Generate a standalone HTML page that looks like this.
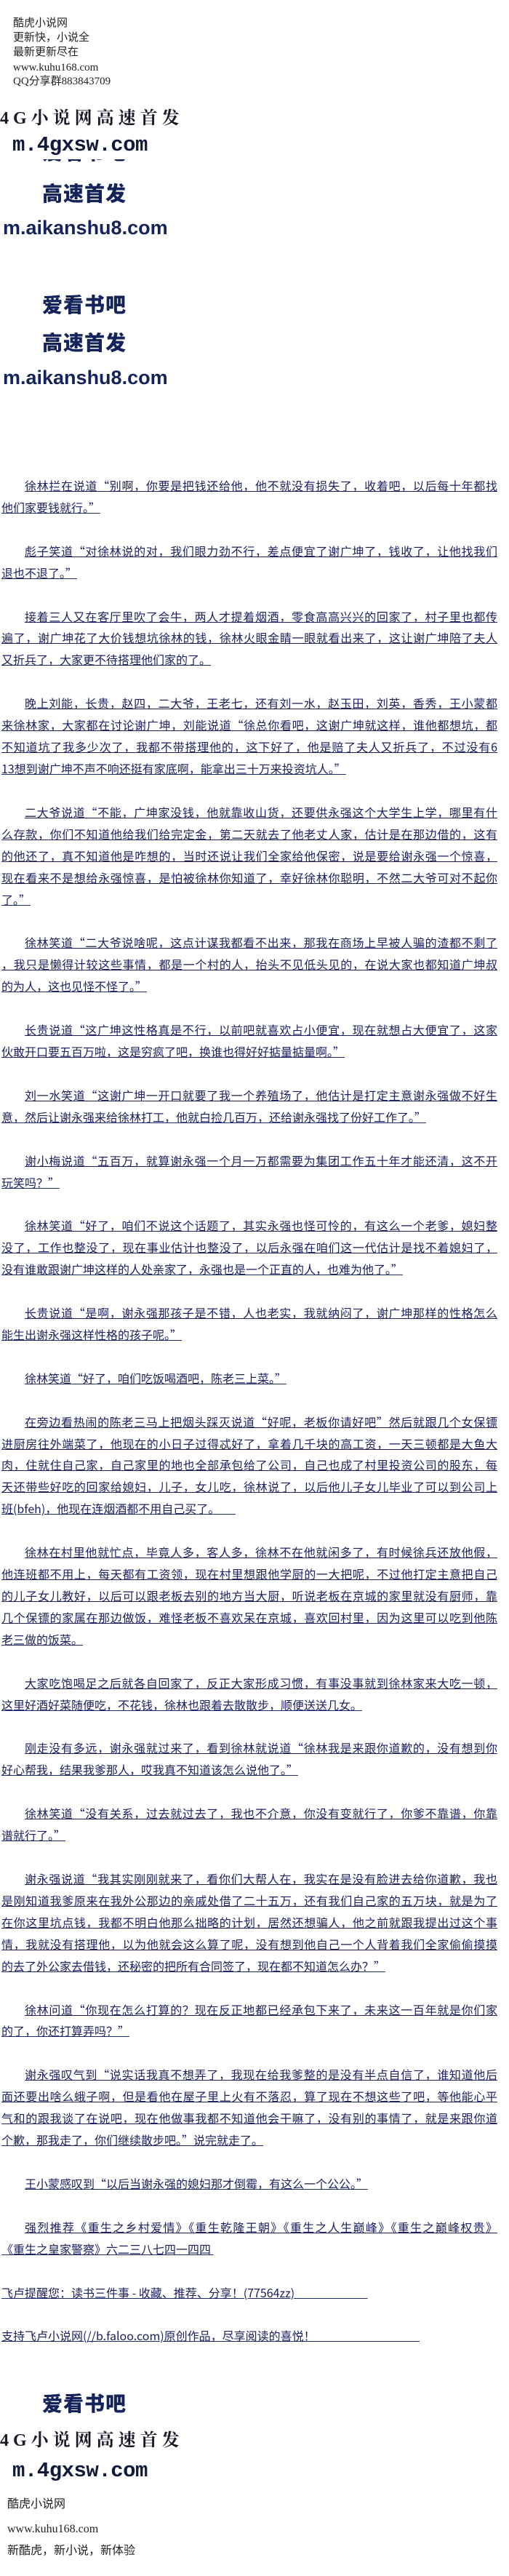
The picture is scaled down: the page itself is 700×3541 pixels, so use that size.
<!DOCTYPE html>
<html><head><meta charset="utf-8">
<style>
html,body{margin:0;padding:0;background:#fff;}
body{width:700px;height:3541px;position:relative;overflow:hidden;font-family:"Liberation Sans","Noto Sans CJK SC",sans-serif;}
.a{position:absolute;white-space:nowrap;}
.hd{left:18px;font-size:15px;color:#222;line-height:20px;font-family:"Liberation Serif","Noto Sans CJK SC",serif;}
.g4{left:0;font-family:"Liberation Serif","Noto Serif CJK SC",serif;font-weight:bold;font-size:24px;letter-spacing:6px;color:#1a1a2a;line-height:30px;}
.mg{left:17px;font-family:"Liberation Mono",monospace;font-weight:bold;font-size:29px;letter-spacing:-0.5px;color:#111a3a;line-height:36px;background:#fff;}
.bl{left:58px;font-family:"Noto Sans CJK SC",sans-serif;font-weight:900;font-size:28px;color:#14235a;line-height:36px;letter-spacing:1px;}
.ak{left:4px;font-family:"Liberation Sans",sans-serif;font-weight:bold;font-size:27px;color:#14235a;line-height:36px;}
#txt{position:absolute;left:2px;top:653px;width:682px;font-family:"Noto Sans CJK SC","Liberation Sans",sans-serif;font-size:16px;color:#1e2160;}
#txt div{height:29.93px;line-height:29.93px;white-space:nowrap;overflow:visible;}
#txt .f{text-align:justify;text-align-last:justify;}
#txt .i{padding-left:32px;}
#txt span{text-decoration:underline;text-decoration-color:#1e2a70;}
#txt .f span{display:block;text-decoration:underline;}
.ft{left:10px;font-size:16px;color:#222;line-height:20px;font-family:"Liberation Serif","Noto Sans CJK SC",serif;}
</style></head><body>
<div class="a hd" style="top:22px">酷虎小说网</div>
<div class="a hd" style="top:42px">更新快，小说全</div>
<div class="a hd" style="top:62px">最新更新尽在</div>
<div class="a hd" style="top:83px">www.kuhu168.com</div>
<div class="a hd" style="top:102px">QQ分享群883843709</div>

<div class="a g4" style="top:148px">4G小说网高速首发</div>
<div class="a bl" style="top:190px">爱看书吧</div>
<div class="a mg" style="top:182px;width:230px;height:37px">m.4gxsw.com</div>
<div class="a bl" style="top:247px">高速首发</div>
<div class="a ak" style="top:295px">m.aikanshu8.com</div>
<div class="a bl" style="top:400px">爱看书吧</div>
<div class="a bl" style="top:452px">高速首发</div>
<div class="a ak" style="top:501px">m.aikanshu8.com</div>

<div id="txt">
<div class="f i"><span>徐林拦在说道“别啊，你要是把钱还给他，他不就没有损失了，收着吧，以后每十年都找</span></div>
<div><span>他们家要钱就行。”</span></div>
<div></div>
<div class="f i"><span>彪子笑道“对徐林说的对，我们眼力劲不行，差点便宜了谢广坤了，钱收了，让他找我们</span></div>
<div><span>退也不退了。”</span></div>
<div></div>
<div class="f i"><span>接着三人又在客厅里吹了会牛，两人才提着烟酒，零食高高兴兴的回家了，村子里也都传</span></div>
<div class="f"><span>遍了，谢广坤花了大价钱想坑徐林的钱，徐林火眼金睛一眼就看出来了，这让谢广坤陪了夫人</span></div>
<div><span>又折兵了，大家更不待搭理他们家的了。</span></div>
<div></div>
<div class="f i"><span>晚上刘能，长贵，赵四，二大爷，王老七，还有刘一水，赵玉田，刘英，香秀，王小蒙都</span></div>
<div class="f"><span>来徐林家，大家都在讨论谢广坤，刘能说道“徐总你看吧，这谢广坤就这样，谁他都想坑，都</span></div>
<div class="f"><span>不知道坑了我多少次了，我都不带搭理他的，这下好了，他是赔了夫人又折兵了，不过没有6</span></div>
<div><span>13想到谢广坤不声不响还挺有家底啊，能拿出三十万来投资坑人。”</span></div>
<div></div>
<div class="f i"><span>二大爷说道“不能，广坤家没钱，他就靠收山货，还要供永强这个大学生上学，哪里有什</span></div>
<div class="f"><span>么存款，你们不知道他给我们给完定金，第二天就去了他老丈人家，估计是在那边借的，这有</span></div>
<div class="f"><span>的他还了，真不知道他是咋想的，当时还说让我们全家给他保密，说是要给谢永强一个惊喜，</span></div>
<div class="f"><span>现在看来不是想给永强惊喜，是怕被徐林你知道了，幸好徐林你聪明，不然二大爷可对不起你</span></div>
<div><span>了。”</span></div>
<div></div>
<div class="f i"><span>徐林笑道“二大爷说啥呢，这点计谋我都看不出来，那我在商场上早被人骗的渣都不剩了</span></div>
<div class="f"><span>，我只是懒得计较这些事情，都是一个村的人，抬头不见低头见的，在说大家也都知道广坤叔</span></div>
<div><span>的为人，这也见怪不怪了。”</span></div>
<div></div>
<div class="f i"><span>长贵说道“这广坤这性格真是不行，以前吧就喜欢占小便宜，现在就想占大便宜了，这家</span></div>
<div><span>伙敢开口要五百万啦，这是穷疯了吧，换谁也得好好掂量掂量啊。”</span></div>
<div></div>
<div class="f i"><span>刘一水笑道“这谢广坤一开口就要了我一个养殖场了，他估计是打定主意谢永强做不好生</span></div>
<div><span>意，然后让谢永强来给徐林打工，他就白捡几百万，还给谢永强找了份好工作了。”</span></div>
<div></div>
<div class="f i"><span>谢小梅说道“五百万，就算谢永强一个月一万都需要为集团工作五十年才能还清，这不开</span></div>
<div><span>玩笑吗？”</span></div>
<div></div>
<div class="f i"><span>徐林笑道“好了，咱们不说这个话题了，其实永强也怪可怜的，有这么一个老爹，媳妇整</span></div>
<div class="f"><span>没了，工作也整没了，现在事业估计也整没了，以后永强在咱们这一代估计是找不着媳妇了，</span></div>
<div><span>没有谁敢跟谢广坤这样的人处亲家了，永强也是一个正直的人，也难为他了。”</span></div>
<div></div>
<div class="f i"><span>长贵说道“是啊，谢永强那孩子是不错，人也老实，我就纳闷了，谢广坤那样的性格怎么</span></div>
<div><span>能生出谢永强这样性格的孩子呢。”</span></div>
<div></div>
<div class="i"><span>徐林笑道“好了，咱们吃饭喝酒吧，陈老三上菜。”</span></div>
<div></div>
<div class="f i"><span>在旁边看热闹的陈老三马上把烟头踩灭说道“好呢，老板你请好吧”然后就跟几个女保镖</span></div>
<div class="f"><span>进厨房往外端菜了，他现在的小日子过得忒好了，拿着几千块的高工资，一天三顿都是大鱼大</span></div>
<div class="f"><span>肉，住就住自己家，自己家里的地也全部承包给了公司，自己也成了村里投资公司的股东，每</span></div>
<div class="f"><span>天还带些好吃的回家给媳妇，儿子，女儿吃，徐林说了，以后他儿子女儿毕业了可以到公司上</span></div>
<div><span>班(bfeh)，他现在连烟酒都不用自己买了。&nbsp;&nbsp;&nbsp;&nbsp;&nbsp;&nbsp;</span></div>
<div></div>
<div class="f i"><span>徐林在村里他就忙点，毕竟人多，客人多，徐林不在他就闲多了，有时候徐兵还放他假，</span></div>
<div class="f"><span>他连班都不用上，每天都有工资领，现在村里想跟他学厨的一大把呢，不过他打定主意把自己</span></div>
<div class="f"><span>的儿子女儿教好，以后可以跟老板去别的地方当大厨，听说老板在京城的家里就没有厨师，靠</span></div>
<div class="f"><span>几个保镖的家属在那边做饭，难怪老板不喜欢呆在京城，喜欢回村里，因为这里可以吃到他陈</span></div>
<div><span>老三做的饭菜。</span></div>
<div></div>
<div class="f i"><span>大家吃饱喝足之后就各自回家了，反正大家形成习惯，有事没事就到徐林家来大吃一顿，</span></div>
<div><span>这里好酒好菜随便吃，不花钱，徐林也跟着去散散步，顺便送送几女。</span></div>
<div></div>
<div class="f i"><span>刚走没有多远，谢永强就过来了，看到徐林就说道“徐林我是来跟你道歉的，没有想到你</span></div>
<div><span>好心帮我，结果我爹那人，哎我真不知道该怎么说他了。”</span></div>
<div></div>
<div class="f i"><span>徐林笑道“没有关系，过去就过去了，我也不介意，你没有变就行了，你爹不靠谱，你靠</span></div>
<div><span>谱就行了。”</span></div>
<div></div>
<div class="f i"><span>谢永强说道“我其实刚刚就来了，看你们大帮人在，我实在是没有脸进去给你道歉，我也</span></div>
<div class="f"><span>是刚知道我爹原来在我外公那边的亲戚处借了二十五万，还有我们自己家的五万块，就是为了</span></div>
<div class="f"><span>在你这里坑点钱，我都不明白他那么拙略的计划，居然还想骗人，他之前就跟我提出过这个事</span></div>
<div class="f"><span>情，我就没有搭理他，以为他就会这么算了呢，没有想到他自己一个人背着我们全家偷偷摸摸</span></div>
<div><span>的去了外公家去借钱，还秘密的把所有合同签了，现在都不知道怎么办？”</span></div>
<div></div>
<div class="f i"><span>徐林问道“你现在怎么打算的？现在反正地都已经承包下来了，未来这一百年就是你们家</span></div>
<div><span>的了，你还打算弄吗？”</span></div>
<div></div>
<div class="f i"><span>谢永强叹气到“说实话我真不想弄了，我现在给我爹整的是没有半点自信了，谁知道他后</span></div>
<div class="f"><span>面还要出啥么蛾子啊，但是看他在屋子里上火有不落忍，算了现在不想这些了吧，等他能心平</span></div>
<div class="f"><span>气和的跟我谈了在说吧，现在他做事我都不知道他会干嘛了，没有别的事情了，就是来跟你道</span></div>
<div><span>个歉，那我走了，你们继续散步吧。”说完就走了。</span></div>
<div></div>
<div class="i"><span>王小蒙感叹到“以后当谢永强的媳妇那才倒霉，有这么一个公公。”</span></div>
<div></div>
<div class="f i"><span>强烈推荐《重生之乡村爱情》《重生乾隆王朝》《重生之人生巅峰》《重生之巅峰权贵》</span></div>
<div><span>《重生之皇家警察》六二三八七四一四四&nbsp;</span></div>
<div></div>
<div><span>飞卢提醒您：读书三件事 - 收藏、推荐、分享！(77564zz)&nbsp;&nbsp;&nbsp;&nbsp;&nbsp;&nbsp;&nbsp;&nbsp;&nbsp;&nbsp;&nbsp;&nbsp;&nbsp;&nbsp;&nbsp;&nbsp;&nbsp;&nbsp;&nbsp;&nbsp;&nbsp;&nbsp;&nbsp;&nbsp;&nbsp;&nbsp;&nbsp;&nbsp;</span></div>
<div></div>
<div><span>支持飞卢小说网(//b.faloo.com)原创作品，尽享阅读的喜悦！&nbsp;&nbsp;&nbsp;&nbsp;&nbsp;&nbsp;&nbsp;&nbsp;&nbsp;&nbsp;&nbsp;&nbsp;&nbsp;&nbsp;&nbsp;&nbsp;&nbsp;&nbsp;&nbsp;&nbsp;&nbsp;&nbsp;&nbsp;&nbsp;&nbsp;&nbsp;&nbsp;&nbsp;&nbsp;&nbsp;&nbsp;&nbsp;&nbsp;&nbsp;&nbsp;&nbsp;&nbsp;&nbsp;&nbsp;&nbsp;</span></div>
</div>

<div class="a bl" style="top:3285px">爱看书吧</div>
<div class="a g4" style="top:3340px">4G小说网高速首发</div>
<div class="a mg" style="top:3379px">m.4gxsw.com</div>
<div class="a ft" style="top:3433px">酷虎小说网</div>
<div class="a ft" style="top:3467px">www.kuhu168.com</div>
<div class="a ft" style="top:3497px">新酷虎，新小说，新体验</div>
</body></html>
